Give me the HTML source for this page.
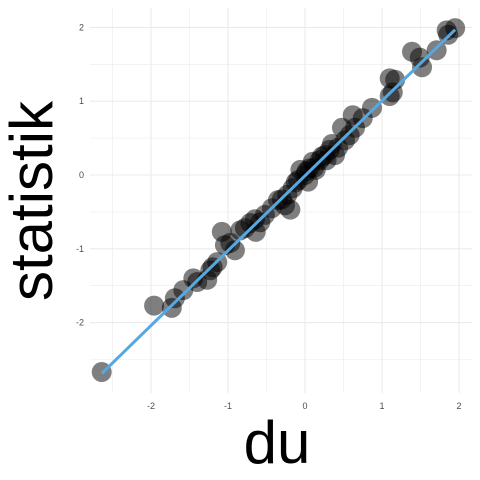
<!DOCTYPE html>
<html><head><meta charset="utf-8"><style>body{margin:0;background:#fff}svg{display:block}text{font-family:"Liberation Sans",sans-serif}</style></head>
<body>
<svg id="chart" width="480" height="480" viewBox="0 0 480 480">
<g id="grid"></g>
<g id="points"></g>
<g id="fit"></g>
<g id="axes"></g>
<text x="277" y="463" font-size="60" text-anchor="middle" fill="#000">du</text>
<text transform="translate(52,201) rotate(-90)" font-size="60" text-anchor="middle" fill="#000">statistik</text>
</svg>
<script>
const xs=[-2.64,-1.96,-1.73,-1.69,-1.58,-1.45,-1.40,-1.27,-1.23,-1.14,-1.08,-1.04,-0.97,-0.91,-0.84,-0.78,-0.71,-0.64,-0.58,-0.52,-0.43,-0.35,-0.26,-0.19,-0.23,-0.16,-0.09,-0.06,0,0.04,0.06,0.10,0.14,0.19,0.26,0.32,0.39,0.43,0.48,0.52,0.58,0.65,0.62,0.75,0.87,1.10,1.17,1.14,1.10,1.39,1.49,1.52,1.71,1.84,1.95,1.86,-0.30,0.22,0.12,-0.12,0.35,-0.65,-1.20,0.02,0.28];
const ys=[-2.67,-1.77,-1.80,-1.67,-1.56,-1.40,-1.45,-1.42,-1.29,-1.18,-0.77,-0.95,-0.92,-1.02,-0.75,-0.72,-0.65,-0.77,-0.64,-0.54,-0.45,-0.34,-0.41,-0.47,-0.27,-0.18,-0.07,0.07,0,-0.09,0.09,0.18,0.07,0.20,0.27,0.34,0.27,0.37,0.64,0.47,0.54,0.64,0.81,0.77,0.91,1.07,1.29,1.12,1.31,1.67,1.59,1.46,1.69,1.96,1.99,1.90,-0.33,0.25,0.10,-0.10,0.42,-0.60,-1.25,0.05,0.20];
const xTicks=[-2,-1,0,1,2];
const yTicks=[-2,-1,0,1,2];
const fitX=[-2.64,1.95];
const slope=1.015, intercept=-0.01;
const NS="http://www.w3.org/2000/svg";
const sx=v=>305+77*v, sy=v=>175-73.8*v;
function mk(t,a,p){const e=document.createElementNS(NS,t);for(const k in a)e.setAttribute(k,a[k]);p.appendChild(e);return e;}
const G=document.getElementById('grid');
for(let v=-2.5;v<=2.5;v+=0.5){const major=Number.isInteger(v);
 const l=mk('line',{x1:sx(v),x2:sx(v),y1:8,y2:393,stroke:'#ebebeb','stroke-width':major?1.1:0.6},G);
 
 
}
for(let v=-2.5;v<=2.5;v+=0.5){const major=Number.isInteger(v);
 const l=mk('line',{x1:90,x2:472,y1:sy(v),y2:sy(v),stroke:'#ebebeb','stroke-width':major?1.1:0.6},G);
 
 
}
const P=document.getElementById('points');
xs.forEach((x,i)=>{const c=mk('circle',{cx:sx(x),cy:sy(ys[i]),r:10,fill:'#000','fill-opacity':0.5},P);
 
 
});
const F=document.getElementById('fit');
const fl=mk('line',{x1:sx(fitX[0]),y1:sy(slope*fitX[0]+intercept),x2:sx(fitX[1]),y2:sy(slope*fitX[1]+intercept),stroke:'#56a8e3','stroke-width':3},F);


const A=document.getElementById('axes');
xTicks.forEach(v=>{const t=mk('text',{x:sx(v),y:409,'font-size':9,'text-anchor':'middle',fill:'#4d4d4d'},A);t.textContent=v;
 
 
});
yTicks.forEach(v=>{const t=mk('text',{x:84,y:sy(v)+3,'font-size':9,'text-anchor':'end',fill:'#4d4d4d'},A);t.textContent=v;
 
 
});
</script>
</body></html>
